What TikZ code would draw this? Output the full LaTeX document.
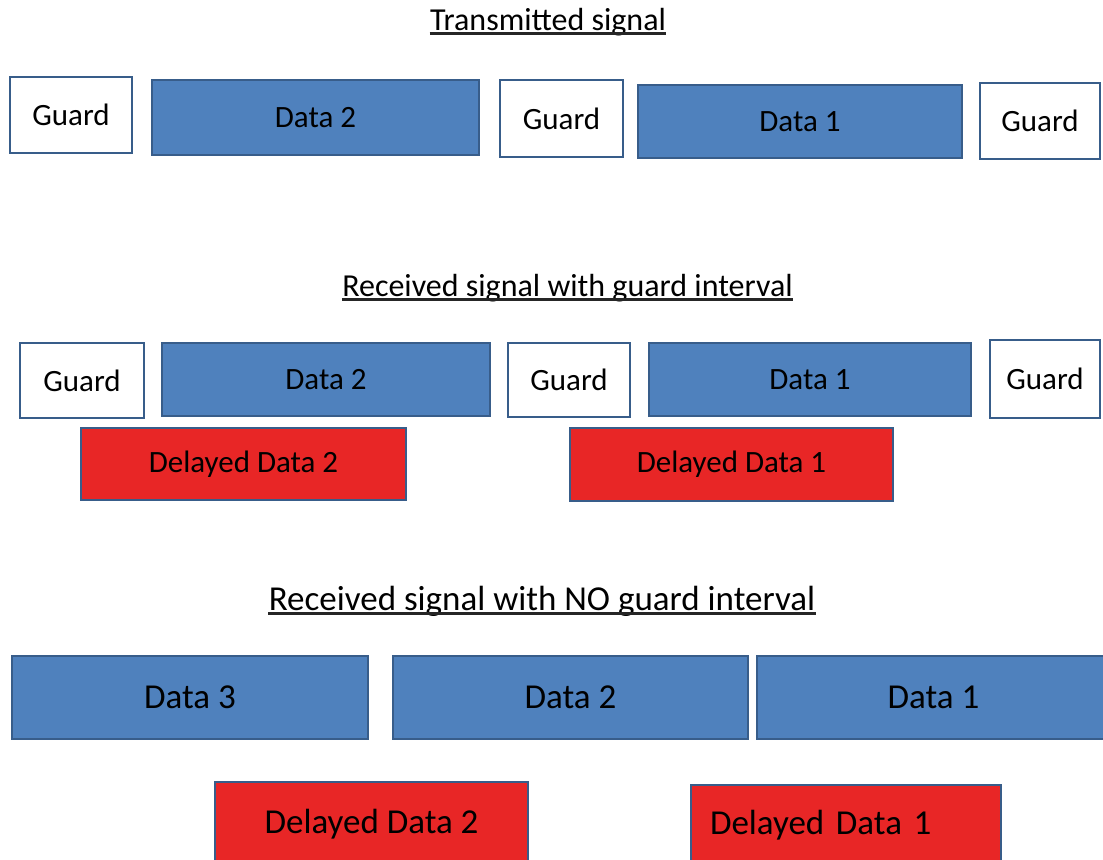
\documentclass[tikz,border=0pt]{standalone}
\usepackage{fontspec}
\setmainfont{Carlito}
\definecolor{boxblue}{HTML}{4F81BD}
\definecolor{boxedge}{HTML}{385D8A}
\definecolor{boxred}{HTML}{E82626}
\tikzset{guardnode/.style={rectangle, draw=boxedge, fill=white, line width=1.2pt, font=\fontsize{15.5}{18}\selectfont},
datanode/.style={guardnode, fill=boxblue},
delaynode/.style={guardnode, fill=boxred},
bigtext/.style={font=\fontsize{17.5}{21}\selectfont},
titlenode/.style={inner sep=0pt, anchor=base, font=\fontsize{16}{19}\selectfont},}
\begin{document}
\begin{tikzpicture}[x=0.5pt, y=-0.5pt]
\useasboundingbox (0,0) rectangle (1103,859);
\fill [white] (0,0) rectangle (1103,859);
\clip (0,0) rectangle (1103,859);
% titles
\node [titlenode] (t1) at (548,30) {Transmitted signal};
\node [titlenode] (t2) at (567.5,296) {Received signal with guard interval};
\node [titlenode, bigtext] (t3) at (542,610) {Received signal with NO guard interval};
\foreach \t in {t1,t2,t3}
  \draw [line width=1.1pt, black!85] ([yshift=-1.7pt]\t.base west) -- ([yshift=-1.7pt]\t.base east);
% transmitted
\node [guardnode, minimum width=61pt, minimum height=38pt] (txg1) at (71,115) {Guard};
\node [datanode, minimum width=163.5pt, minimum height=37.5pt] (txd2) at (315.5,117.5) {Data 2};
\node [guardnode, minimum width=61.5pt, minimum height=38.5pt] (txg2) at (561.5,118.5) {Guard};
\node [datanode, minimum width=162pt, minimum height=36.5pt] (txd1) at (800,121.5) {Data 1};
\node [guardnode, minimum width=60pt, minimum height=38pt] (txg3) at (1040,121) {Guard};
% with guard interval
\node [guardnode, minimum width=62pt, minimum height=37.5pt] (rxg1) at (82,380.5) {Guard};
\node [datanode, minimum width=164pt, minimum height=36.5pt] (rxd2) at (326,379.5) {Data 2};
\node [guardnode, minimum width=61pt, minimum height=37pt] (rxg2) at (569,380) {Guard};
\node [datanode, minimum width=161pt, minimum height=36.5pt] (rxd1) at (810,379.5) {Data 1};
\node [guardnode, minimum width=55pt, minimum height=39pt] (rxg3) at (1045,379) {Guard};
\node [delaynode, minimum width=162.5pt, minimum height=36pt] (rxdd2) at (243.5,464) {Delayed Data 2};
\node [delaynode, minimum width=161.5pt, minimum height=36.5pt] (rxdd1) at (731.5,464.5) {Delayed Data 1};
% no guard interval
\node [datanode, bigtext, minimum width=178pt, minimum height=41.5pt] (ngd3) at (190,697.5) {Data 3};
\node [datanode, bigtext, minimum width=177.5pt, minimum height=41.5pt] (ngd2) at (570.5,697.5) {Data 2};
\node [datanode, bigtext, minimum width=176.5pt, minimum height=41.5pt] (ngd1) at (933.5,697.5) {Data 1};
\node [delaynode, bigtext, minimum width=156.5pt, minimum height=42pt] (ngdd2) at (371.5,824) {Delayed Data 2};
\node [delaynode, bigtext, minimum width=155pt, minimum height=40.5pt, inner xsep=9.5pt, text width=136pt, align=left] (ngdd1) at (846,825.5) {Delayed Data 1};
\end{tikzpicture}
\end{document}
